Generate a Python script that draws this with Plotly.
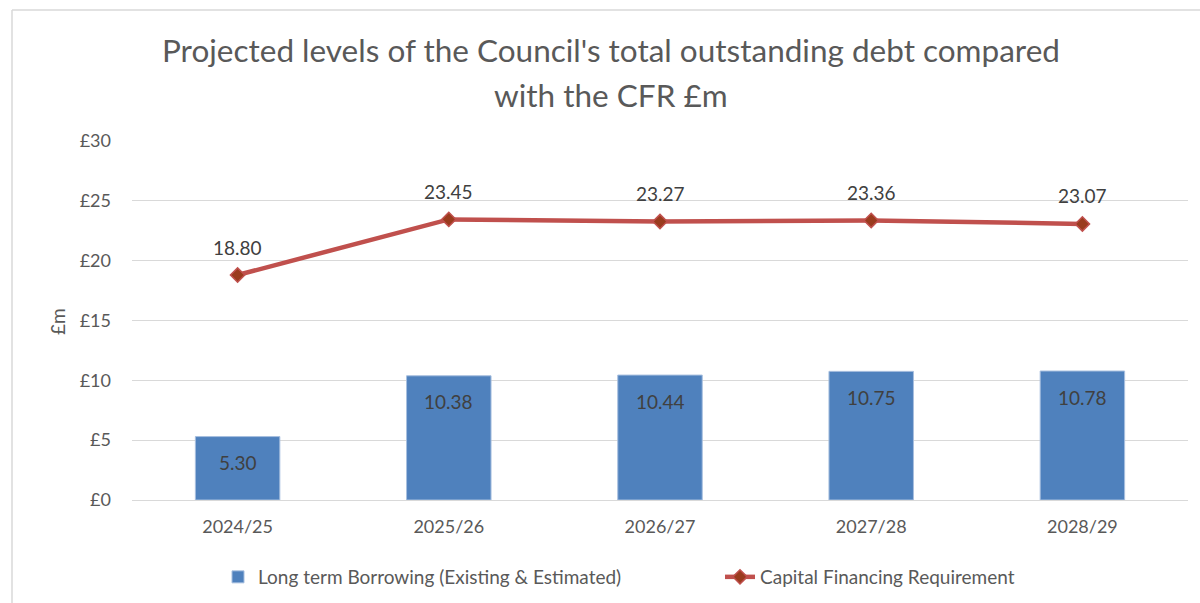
import plotly.graph_objects as go

categories = ["2024/25", "2025/26", "2026/27", "2027/28", "2028/29"]
borrowing = [5.30, 10.38, 10.44, 10.75, 10.78]
cfr = [18.80, 23.45, 23.27, 23.36, 23.07]
y_ticks = [0, 5, 10, 15, 20, 25, 30]
y_tick_labels = ["£0", "£5", "£10", "£15", "£20", "£25", "£30"]

FONT = "Lato"
TXT = "#595959"
W, H = 1200, 603
L, R, T, B = 132, 12, 141, 103
PW, PH = W - L - R, H - T - B

def px(x):
    return (x - L) / PW

def py(y):
    return (H - B - y) / PH

fig = go.Figure()
fig.add_trace(go.Bar(
    x=categories, y=borrowing, name="Long term Borrowing (Existing & Estimated)",
    marker=dict(color="#4f81bd", line=dict(color="#a7bfdf", width=1)),
    width=0.4, legend="legend",
))
fig.add_trace(go.Scatter(
    x=categories, y=cfr, name="Capital Financing Requirement",
    mode="lines+markers",
    line=dict(color="#c0504d", width=4.5),
    marker=dict(symbol="diamond", size=11, color="#9a3b1e",
                line=dict(color="#c0504d", width=1.5)),
    legend="legend2",
))

annotations = []
for c, v in zip(categories, borrowing):
    annotations.append(dict(x=c, y=v, xref="x", yref="y", text=f"{v:.2f}",
                            showarrow=False, yshift=-26,
                            font=dict(family=FONT, size=19, color="#404040")))
for c, v in zip(categories, cfr):
    annotations.append(dict(x=c, y=v, xref="x", yref="y", text=f"{v:.2f}",
                            showarrow=False, yshift=28,
                            font=dict(family=FONT, size=19, color="#404040")))

annotations.append(dict(x=px(611), y=py(50), xref="paper", yref="paper",
                        text="Projected levels of the Council's total outstanding debt compared",
                        showarrow=False, xanchor="center", yanchor="middle",
                        font=dict(family=FONT, size=31.5, color=TXT)))
annotations.append(dict(x=px(611), y=py(95), xref="paper", yref="paper",
                        text="with the CFR £m",
                        showarrow=False, xanchor="center", yanchor="middle",
                        font=dict(family=FONT, size=31.5, color=TXT)))
annotations.append(dict(x=px(57), y=py(322), xref="paper", yref="paper",
                        text="£m", textangle=-90,
                        showarrow=False, xanchor="center", yanchor="middle",
                        font=dict(family=FONT, size=19, color=TXT)))

shapes = [
    dict(type="line", xref="paper", yref="paper", x0=px(12), x1=px(12),
         y0=py(10), y1=py(603), line=dict(color="#d9d9d9", width=1.5)),
    dict(type="line", xref="paper", yref="paper", x0=px(12), x1=px(1200),
         y0=py(10), y1=py(10), line=dict(color="#d9d9d9", width=1.5)),
]

legend_font = dict(family=FONT, size=19, color=TXT)
fig.update_layout(
    width=W, height=H,
    margin=dict(l=L, r=R, t=T, b=B, autoexpand=False),
    paper_bgcolor="white", plot_bgcolor="white",
    font=dict(family=FONT, size=18, color=TXT),
    showlegend=True,
    legend=dict(orientation="h", x=px(218), y=py(577), xanchor="left",
                yanchor="middle", font=legend_font, bgcolor="rgba(0,0,0,0)"),
    legend2=dict(orientation="h", x=px(720), y=py(577), xanchor="left",
                 yanchor="middle", font=legend_font, bgcolor="rgba(0,0,0,0)"),
    annotations=annotations,
    shapes=shapes,
    hovermode=False,
    bargap=0.6,
)
fig.update_xaxes(showgrid=False, showline=True, linecolor="#d9d9d9", linewidth=1,
                 ticks="", tickfont=dict(family=FONT, size=18, color=TXT),
                 ticklabelstandoff=10)
fig.update_yaxes(range=[0, 30], tickmode="array", tickvals=y_ticks,
                 ticktext=y_tick_labels,
                 showgrid=True, gridcolor="#d9d9d9", gridwidth=1,
                 zeroline=False, showline=False, ticks="",
                 tickfont=dict(family=FONT, size=18, color=TXT),
                 ticklabelstandoff=20)

fig.write_html("out.html")
